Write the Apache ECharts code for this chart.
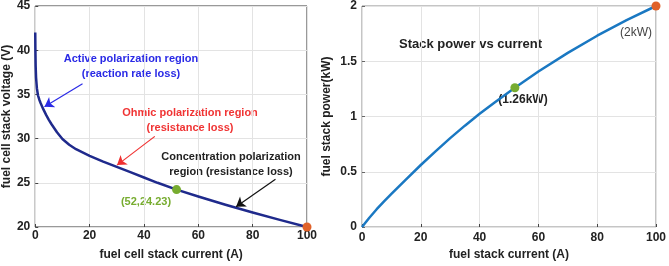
<!DOCTYPE html>
<html>
<head>
<meta charset="utf-8">
<script src="https://cdn.jsdelivr.net/npm/echarts@6/dist/echarts.min.js"></script>
<style>html,body{margin:0;padding:0;background:#fff}#c{width:669px;height:266px}</style>
</head>
<body>
<div id="c"></div>
<script>
// ---- data ----
var currentV = [0, 0.05, 0.15, 0.3, 0.6, 1, 1.5, 2, 3, 4, 5, 6, 8, 10, 12.5, 15, 20, 25, 30, 35, 40, 45, 52, 60, 70, 80, 90, 100];
var voltage  = [42.0, 40.2, 38.2, 36.9, 35.7, 34.9, 34.4, 34.0, 33.3, 32.68, 32.12, 31.62, 30.72, 29.95, 29.3, 28.8, 28.05, 27.4, 26.8, 26.2, 25.6, 25.0, 24.23, 23.45, 22.52, 21.64, 20.81, 20.0];
var currentP = [0, 2.5, 5, 7.5, 10, 15, 20, 25, 30, 35, 40, 45, 52, 60, 70, 80, 90, 100];
var powerKW  = [0, 0.084, 0.161, 0.232, 0.2995, 0.432, 0.561, 0.685, 0.804, 0.917, 1.024, 1.125, 1.26, 1.407, 1.576, 1.731, 1.873, 2.0];
var opPointV = [52, 24.23];
var maxPointV = [100, 20];
var opPointP = [52, 1.26];
var maxPointP = [100, 2];
var xTicks = [0, 20, 40, 60, 80, 100];
var vTicks = [20, 25, 30, 35, 40, 45];
var pTicks = [0, 0.5, 1, 1.5, 2];
// annotation arrows (data coordinates: [from, to])
var arrowBlue  = [[17.4, 36.2], [3.4, 33.6]];
var arrowRed   = [[44, 30.25], [30.1, 27.0]];
var arrowBlack = [[88.4, 25.4], [73.9, 22.3]];

function zip(a, b) { return a.map(function (v, i) { return [v, b[i]]; }); }

var FONT = '"Liberation Sans", Arial, sans-serif';
var chart = echarts.init(document.getElementById('c'), null, {renderer: 'canvas'});

function xAx(gi, name, nameGap, margin) {
  return {
    gridIndex: gi, type: 'value', min: xTicks[0], max: xTicks[xTicks.length - 1], interval: 20,
    name: name, nameLocation: 'middle', nameGap: nameGap,
    nameTextStyle: {fontFamily: FONT, fontWeight: 'bold', fontSize: 12, color: '#222', verticalAlign: 'top'},
    axisLine: {show: false},
    axisTick: {show: true, inside: true, length: 3, lineStyle: {color: '#444'}},
    axisLabel: {fontFamily: FONT, fontWeight: 'bold', fontSize: 12, color: '#222', margin: margin},
    splitLine: {show: true, lineStyle: {color: '#e3e3e3', width: 1}}
  };
}

var option = {
  backgroundColor: '#fff',
  animation: false,
  grid: [
    {left: 32, right: 362, top: 5, bottom: 37, show: true, borderColor: '#333', borderWidth: 1, backgroundColor: '#fff'},
    {left: 362, right: 10, top: 5, bottom: 39, show: true, borderColor: '#8a8a8a', borderWidth: 1, backgroundColor: '#fff'}
  ],
  xAxis: [
    xAx(0, 'fuel cell stack current (A)', 22, 3),
    xAx(1, 'fuel stack current (A)', 21, 5)
  ],
  yAxis: [
    {
      gridIndex: 0, type: 'value', min: vTicks[0], max: vTicks[vTicks.length - 1], interval: 5,
      name: 'fuel cell stack voltage (V)', nameLocation: 'middle', nameGap: 20,
      nameTextStyle: {fontFamily: FONT, fontWeight: 'bold', fontSize: 12, color: '#222'},
      axisLine: {show: false},
      axisTick: {show: true, inside: true, length: 3, lineStyle: {color: '#444'}},
      axisLabel: {fontFamily: FONT, fontWeight: 'bold', fontSize: 12, color: '#222', margin: 5},
      splitLine: {show: true, lineStyle: {color: '#e3e3e3', width: 1}}
    },
    {
      gridIndex: 1, type: 'value', min: pTicks[0], max: pTicks[pTicks.length - 1], interval: 0.5,
      name: 'fuel stack power(kW)', nameLocation: 'middle', nameGap: 29,
      nameTextStyle: {fontFamily: FONT, fontWeight: 'bold', fontSize: 12, color: '#222'},
      axisLine: {show: false},
      axisTick: {show: true, inside: true, length: 3, lineStyle: {color: '#666'}},
      axisLabel: {fontFamily: FONT, fontWeight: 'bold', fontSize: 12, color: '#222', margin: 5},
      splitLine: {show: true, lineStyle: {color: '#e3e3e3', width: 1}}
    }
  ],
  series: [
    {
      type: 'line', xAxisIndex: 0, yAxisIndex: 0, data: zip(currentV, voltage),
      showSymbol: false, smooth: false,
      lineStyle: {color: '#1f2a8c', width: 2.5, join: 'round'}, z: 3
    },
    {
      type: 'line', xAxisIndex: 1, yAxisIndex: 1, data: zip(currentP, powerKW),
      showSymbol: false, smooth: false,
      lineStyle: {color: '#1a78c2', width: 2.5, join: 'round'}, z: 3
    },
    {
      type: 'scatter', xAxisIndex: 0, yAxisIndex: 0, data: [opPointV], symbolSize: 9,
      itemStyle: {color: '#77ac30', opacity: 1}, z: 5
    },
    {
      type: 'scatter', xAxisIndex: 0, yAxisIndex: 0, data: [maxPointV], symbolSize: 9,
      itemStyle: {color: '#e0622a', opacity: 1}, z: 5
    },
    {
      type: 'scatter', xAxisIndex: 1, yAxisIndex: 1, data: [opPointP], symbolSize: 9,
      itemStyle: {color: '#77ac30', opacity: 1}, z: 5
    },
    {
      type: 'scatter', xAxisIndex: 1, yAxisIndex: 1, data: [maxPointP], symbolSize: 9,
      itemStyle: {color: '#e0622a', opacity: 1}, z: 5
    },
    {
      type: 'lines', coordinateSystem: 'cartesian2d', xAxisIndex: 0, yAxisIndex: 0,
      symbol: ['none', 'arrow'], symbolSize: 9, silent: true, z: 4,
      lineStyle: {opacity: 1, width: 1.2},
      data: [
        {coords: arrowBlue, lineStyle: {color: '#2a2ae6', width: 1.2, opacity: 1}},
        {coords: arrowRed, lineStyle: {color: '#f03030', width: 1.2, opacity: 1}},
        {coords: arrowBlack, lineStyle: {color: '#111', width: 1.2, opacity: 1}}
      ]
    }
  ],
  graphic: [
    {type: 'text', x: 131, y: 66, style: {text: 'Active polarization region\n(reaction rate loss)', fill: '#2a2ae6', font: 'bold 11px ' + FONT, align: 'center', verticalAlign: 'middle', lineHeight: 15}},
    {type: 'text', x: 190, y: 120, style: {text: 'Ohmic polarization region\n(resistance loss)', fill: '#f03434', font: 'bold 11px ' + FONT, align: 'center', verticalAlign: 'middle', lineHeight: 15}},
    {type: 'text', x: 231, y: 164, style: {text: 'Concentration polarization\nregion (resistance loss)', fill: '#222', font: 'bold 11px ' + FONT, align: 'center', verticalAlign: 'middle', lineHeight: 15}},
    {type: 'text', x: 146, y: 202, style: {text: '(52,24.23)', fill: '#77ac30', font: 'bold 11px ' + FONT, align: 'center', verticalAlign: 'middle'}},
    {type: 'text', x: 399, y: 44, style: {text: 'Stack power vs current', fill: '#222', font: 'bold 13px ' + FONT, align: 'left', verticalAlign: 'middle'}},
    {type: 'text', x: 523, y: 100, style: {text: '(1.26kW)', fill: '#222', font: 'bold 12px ' + FONT, align: 'center', verticalAlign: 'middle'}},
    {type: 'text', x: 636, y: 33, style: {text: '(2kW)', fill: '#444', font: '12px ' + FONT, align: 'center', verticalAlign: 'middle'}}
  ]
};
chart.setOption(option);
</script>
</body>
</html>
